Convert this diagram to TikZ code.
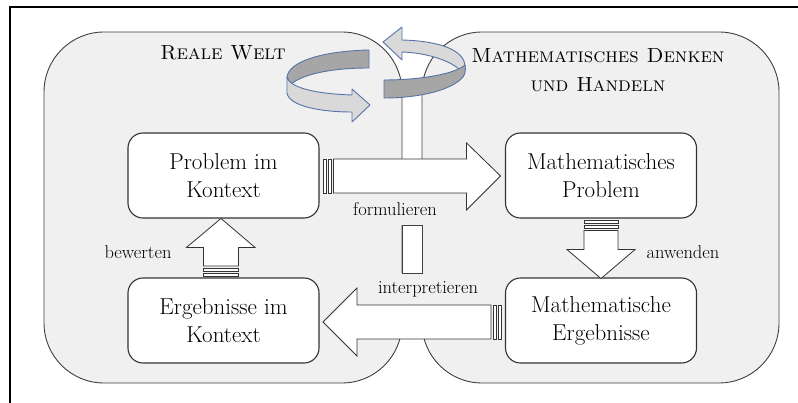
\documentclass[tikz,border=0pt]{standalone}
\usetikzlibrary{calc}
\definecolor{regionfill}{HTML}{F0F0F0}
\definecolor{edgec}{HTML}{404040}
\definecolor{ribdark}{HTML}{A6A6A6}
\definecolor{riblight}{HTML}{D9D9D9}
\definecolor{ribedge}{HTML}{5573A8}
\begin{document}
\begin{tikzpicture}[x=1pt,y=-1pt,
  region/.style={draw=edgec, line width=0.9pt, fill=regionfill, rounded corners=60pt},
  box/.style={draw=black!80, line width=1.1pt, fill=white, rounded corners=15pt,
    minimum width=191pt, minimum height=85pt, align=center,
    font=\fontsize{23}{28}\selectfont, inner sep=0pt},
  lbl/.style={font=\fontsize{18.5}{22}\selectfont, inner sep=0pt},
  titletext/.style={font=\fontsize{20.5}{29}\selectfont\scshape, align=center, inner sep=0pt},
  blockarrow/.style={draw=black!80, line width=0.8pt, fill=white},
  rib/.style={draw=ribedge, line width=0.9pt, line join=round},
]
\useasboundingbox (0,0) rectangle (798,403);
% outer frame
\draw[line width=1.6pt] (10,410) -- (10,7) -- (805,7);
% regions
\draw[region] (44,32) rectangle (402,383);
\draw[region] (422,32) rectangle (779,383);
% titles
\node[titletext] (rw) at (223,52.5) {Reale Welt};
\node[titletext] (md) at (598,70) {Mathematisches Denken\\und Handeln};
% rotating arrow, left piece
\filldraw[rib, fill=ribdark] (369,50) .. controls (322,51) and (287,62) .. (287,78)
  -- (291,84) .. controls (305,73) and (335,68) .. (369,68) -- cycle;
\filldraw[rib, fill=riblight] (287,77) -- (287,93) .. controls (289,106) and (320,112) .. (352,112)
  -- (352,122) -- (370,105) -- (352,89) -- (352,95)
  .. controls (318,94) and (289,88) .. (287,77) -- cycle;
% rotating arrow, right piece
\filldraw[rib, fill=riblight] (402,40) .. controls (440,41) and (464,50) .. (465,66)
  -- (460,70) .. controls (452,62) and (430,53) .. (402,52)
  -- (402,60) -- (383,42) -- (402,27) -- cycle;
\filldraw[rib, fill=ribdark] (384,80) .. controls (420,80) and (455,74) .. (465,65)
  .. controls (466,70) and (465,74) .. (463,77)
  .. controls (452,90) and (420,98) .. (384,98) -- cycle;
% boxes
\node[box] (p) at (223.5,175.5) {Problem im\\Kontext};
\node[box] (e) at (223.5,320.5) {Ergebnisse im\\Kontext};
\node[box] (mp) at (601,175.5) {Mathematisches\\Problem};
\node[box] (me) at (601,320.5) {Mathematische\\Ergebnisse};
% labels covering the gap
\node[lbl, fill=regionfill, minimum height=32pt, minimum width=100pt] (fo) at (395,209) {formulieren};
\node[lbl, fill=regionfill, minimum height=32pt, minimum width=120pt] (ip) at (428,289) {interpretieren};
\node[lbl] (an) at (683,252) {anwenden};
\node[lbl] (bw) at (138,252) {bewerten};
\draw[draw=edgec, line width=0.9pt, fill=white] (402,225) rectangle (422,273);
% formulieren arrow
\begin{scope}[shift={(p.east)}]
  \draw[blockarrow] (4,-16.5) rectangle (6.5,17.5);
  \draw[blockarrow] (8.5,-16.5) rectangle (12,17.5);
  \draw[blockarrow] (14,-16.5) -- (147,-16.5) -- (147,-32.5) -- (181,0.5) -- (147,34.5) -- (147,17.5) -- (14,17.5) -- cycle;
\end{scope}
% interpretieren arrow
\begin{scope}[shift={(me.west)}]
  \draw[blockarrow] (-6.5,-15.5) rectangle (-4,18.5);
  \draw[blockarrow] (-12,-15.5) rectangle (-8.5,18.5);
  \draw[blockarrow] (-14,-15.5) -- (-148,-15.5) -- (-148,-32.5) -- (-182,1.5) -- (-148,35.5) -- (-148,18.5) -- (-14,18.5) -- cycle;
\end{scope}
% anwenden arrow
\begin{scope}[shift={(mp.south)}]
  \draw[blockarrow] (-17,2) rectangle (17,4.5);
  \draw[blockarrow] (-17,6.5) rectangle (17,10);
  \draw[blockarrow] (-17,12) -- (-17,31) -- (-34,31) -- (0,60) -- (34,31) -- (17,31) -- (17,12) -- cycle;
\end{scope}
% bewerten arrow
\begin{scope}[shift={(e.north)}]
  \draw[blockarrow] (-20,-1.5) rectangle (15,-4);
  \draw[blockarrow] (-20,-6) rectangle (15,-9.5);
  \draw[blockarrow] (-20,-11.5) -- (-20,-30) -- (-37,-30) -- (-2.5,-59) -- (31.5,-30) -- (15,-30) -- (15,-11.5) -- cycle;
\end{scope}
\end{tikzpicture}
\end{document}
